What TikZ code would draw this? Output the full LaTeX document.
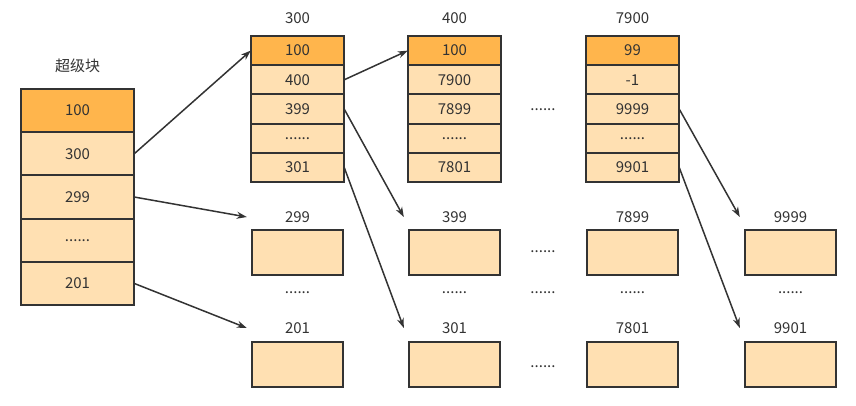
\documentclass[tikz,border=0pt]{standalone}
\usepackage{fontspec}
\setmainfont{Noto Sans CJK SC}
\usepackage{tikz}
\usetikzlibrary{arrows.meta,positioning}
\definecolor{headfill}{HTML}{FFB54C}
\definecolor{cellfill}{HTML}{FFE0B2}
\definecolor{ink}{HTML}{333333}

\begin{document}
\begin{tikzpicture}[x=1pt,y=1pt]
\tikzstyle{every node}+=[inner sep=0pt, text=ink, font=\fontsize{15}{17}\selectfont]
\tikzstyle{cell}=[fill=cellfill, minimum width=93pt, minimum height=29.2pt]
\tikzstyle{head}=[cell, fill=headfill]
\tikzstyle{bigcell}=[fill=cellfill, minimum width=113pt, minimum height=43.2pt]
\tikzstyle{bighead}=[bigcell, fill=headfill]
\tikzstyle{blk}=[draw=ink, line width=1.6pt, fill=cellfill, minimum width=91pt, minimum height=45pt]
\tikzstyle{tag}=[minimum width=101pt]
\tikzstyle{rim}=[draw=ink, line width=1.6pt]
\tikzstyle{link}=[draw=ink, line width=1.5pt, -{Stealth[length=10pt,width=7pt]}]
\useasboundingbox (0,0) rectangle (856,-405);
% super block
\node at (77.5,-66) {超级块};
\node [bighead] (s1) at (77.5,-110.6) {100};
\node [bigcell] (s2) at (77.5,-153.8) {300};
\node [bigcell] (s3) at (77.5,-197) {299};
\node [bigcell] (s4) at (77.5,-240.2) {......};
\node [bigcell] (s5) at (77.5,-283.4) {201};
% block 300
\node at (297.5,-18) {300};
\node [head] (a1) at (297.5,-50.6) {100};
\node [cell] (a2) at (297.5,-79.8) {400};
\node [cell] (a3) at (297.5,-109) {399};
\node [cell] (a4) at (297.5,-138.2) {......};
\node [cell] (a5) at (297.5,-167.4) {301};
% block 400
\node at (454.5,-18) {400};
\node [head] (b1) at (454.5,-50.6) {100};
\node [cell] (b2) at (454.5,-79.8) {7900};
\node [cell] (b3) at (454.5,-109) {7899};
\node [cell] (b4) at (454.5,-138.2) {......};
\node [cell] (b5) at (454.5,-167.4) {7801};
% block 7900
\node at (632.5,-18) {7900};
\node [head] (c1) at (632.5,-50.6) {99};
\node [cell] (c2) at (632.5,-79.8) {-1};
\node [cell] (c3) at (632.5,-109) {9999};
\node [cell] (c4) at (632.5,-138.2) {......};
\node [cell] (c5) at (632.5,-167.4) {9901};
\node (d0) at (543,-110) {......};
% cell borders on top of the fills
\foreach \c in {s1,s2,s3,s4,s5,a1,a2,a3,a4,a5,b1,b2,b3,b4,b5,c1,c2,c3,c4,c5}
  \draw [rim] (\c.south west) rectangle (\c.north east);
% data blocks
\node [tag] (t299) at (297.5,-217) {299};
\node [blk] (k299) at (297.5,-252.5) {};
\node [tag] (t201) at (297.5,-328) {201};
\node [blk] (k201) at (297.5,-364.5) {};
\node [tag] (t399) at (454.5,-217) {399};
\node [blk] (k399) at (454.5,-252.5) {};
\node [tag] (t301) at (454.5,-328) {301};
\node [blk] (k301) at (454.5,-364.5) {};
\node [tag] (t7899) at (632.5,-217) {7899};
\node [blk] (k7899) at (632.5,-252.5) {};
\node [tag] (t7801) at (632.5,-328) {7801};
\node [blk] (k7801) at (632.5,-364.5) {};
\node [tag] (t9999) at (790.5,-217) {9999};
\node [blk] (k9999) at (790.5,-252.5) {};
\node [tag] (t9901) at (790.5,-328) {9901};
\node [blk] (k9901) at (790.5,-364.5) {};
\node (d1) at (543,-252) {......};
\node (d2) at (543,-367) {......};
\foreach \x [count=\i] in {297.5,454.5,543,632.5,790.5}
  \node (m\i) at (\x,-293) {......};
% pointers
\draw [link] (s2.east) -- (a1.west);
\draw [link] (s3.east) -- (t299.west);
\draw [link] (s5.east) -- (t201.west);
\draw [link] (a2.east) -- (b1.west);
\draw [link] (a3.east) -- (t399.west);
\draw [link] (a5.east) -- (t301.west);
\draw [link] (c3.east) -- (t9999.west);
\draw [link] (c5.east) -- (t9901.west);
\end{tikzpicture}
\end{document}
